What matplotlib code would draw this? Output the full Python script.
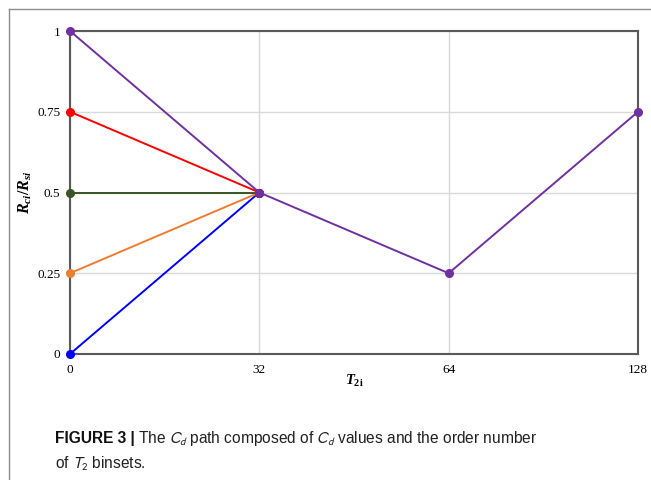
import matplotlib
matplotlib.use("Agg")
import matplotlib.pyplot as plt
from matplotlib.lines import Line2D

# Order numbers of the T2 binsets (placed at equal spacing)
x_labels = ["0", "32", "64", "128"]
y_ticks = [0, 0.25, 0.5, 0.75, 1]
y_tick_labels = ["0", "0.25", "0.5", "0.75", "1"]

# Cd paths: starting ratio at binset 0, all joining at binset 32
blue_path = [0.0, 0.5]
orange_path = [0.25, 0.5]
green_path = [0.5, 0.5]
red_path = [0.75, 0.5]
purple_path = [1.0, 0.5, 0.25, 0.75]

plt.rcParams["mathtext.fontset"] = "custom"
plt.rcParams["mathtext.rm"] = "Liberation Serif:bold"
plt.rcParams["mathtext.it"] = "Liberation Serif:italic:bold"
plt.rcParams["mathtext.bf"] = "Liberation Serif:bold"

fig = plt.figure(figsize=(6.51, 4.80), dpi=100)

# outer panel frame
fig.add_artist(Line2D([9 / 651, 9 / 651], [0, 1 - 9 / 480], transform=fig.transFigure,
                      color="#8c8c8c", lw=1.0))
fig.add_artist(Line2D([9 / 651, 1], [1 - 9 / 480, 1 - 9 / 480], transform=fig.transFigure,
                      color="#8c8c8c", lw=1.0))

ax = fig.add_axes([70 / 651, 1 - 354 / 480, (638 - 70) / 651, (354 - 31) / 480])

series = [
    (blue_path, "#0000ff"),
    (orange_path, "#ed7d31"),
    (green_path, "#375623"),
    (red_path, "#ff0000"),
    (purple_path, "#7030a0"),
]
for vals, col in series:
    xs = list(range(len(vals)))
    ax.plot(xs, vals, color=col, lw=1.4, marker="o", markersize=5.5,
            clip_on=False, zorder=3)

ax.set_xlim(0, 3)
ax.set_ylim(0, 1)
ax.set_xticks(range(len(x_labels)))
ax.set_xticklabels(x_labels)
ax.set_yticks(y_ticks)
ax.set_yticklabels(y_tick_labels)
ax.grid(True, color="#d9d9d9", lw=1.0)
ax.set_axisbelow(True)
ax.tick_params(length=0, labelsize=9.5, pad=7)
for lab in ax.get_xticklabels() + ax.get_yticklabels():
    lab.set_fontfamily("Liberation Serif")
for sp in ax.spines.values():
    sp.set_color("#595959")
    sp.set_linewidth(1.5)

ax.set_xlabel(r"$T_{2\mathrm{i}}$", fontsize=10.5, labelpad=-2)
ax.set_ylabel(r"$R_{ci}/R_{si}$", fontsize=11.5, labelpad=2)

# caption
fig.canvas.draw()
renderer = fig.canvas.get_renderer()
cap_size = 11.2
cap_font = "Liberation Sans"
y1 = 1 - 443 / 480
y2 = 1 - 469 / 480
x0 = 55 / 651
t = fig.text(x0, y1, "FIGURE 3 |", fontsize=cap_size, fontweight="bold",
             fontfamily=cap_font, color="#111111")
bb = t.get_window_extent(renderer)
x1 = bb.x1 / fig.bbox.width + 3 / 651
fig.text(x1, y1, r"The $C_d$ path composed of $C_d$ values and the order number",
         fontsize=cap_size, fontfamily=cap_font, math_fontfamily="stixsans",
         color="#222222")
fig.text(x0, y2, r"of $T_2$ binsets.", fontsize=cap_size, fontfamily=cap_font,
         math_fontfamily="stixsans", color="#222222")

fig.savefig("out.png", dpi=100)
